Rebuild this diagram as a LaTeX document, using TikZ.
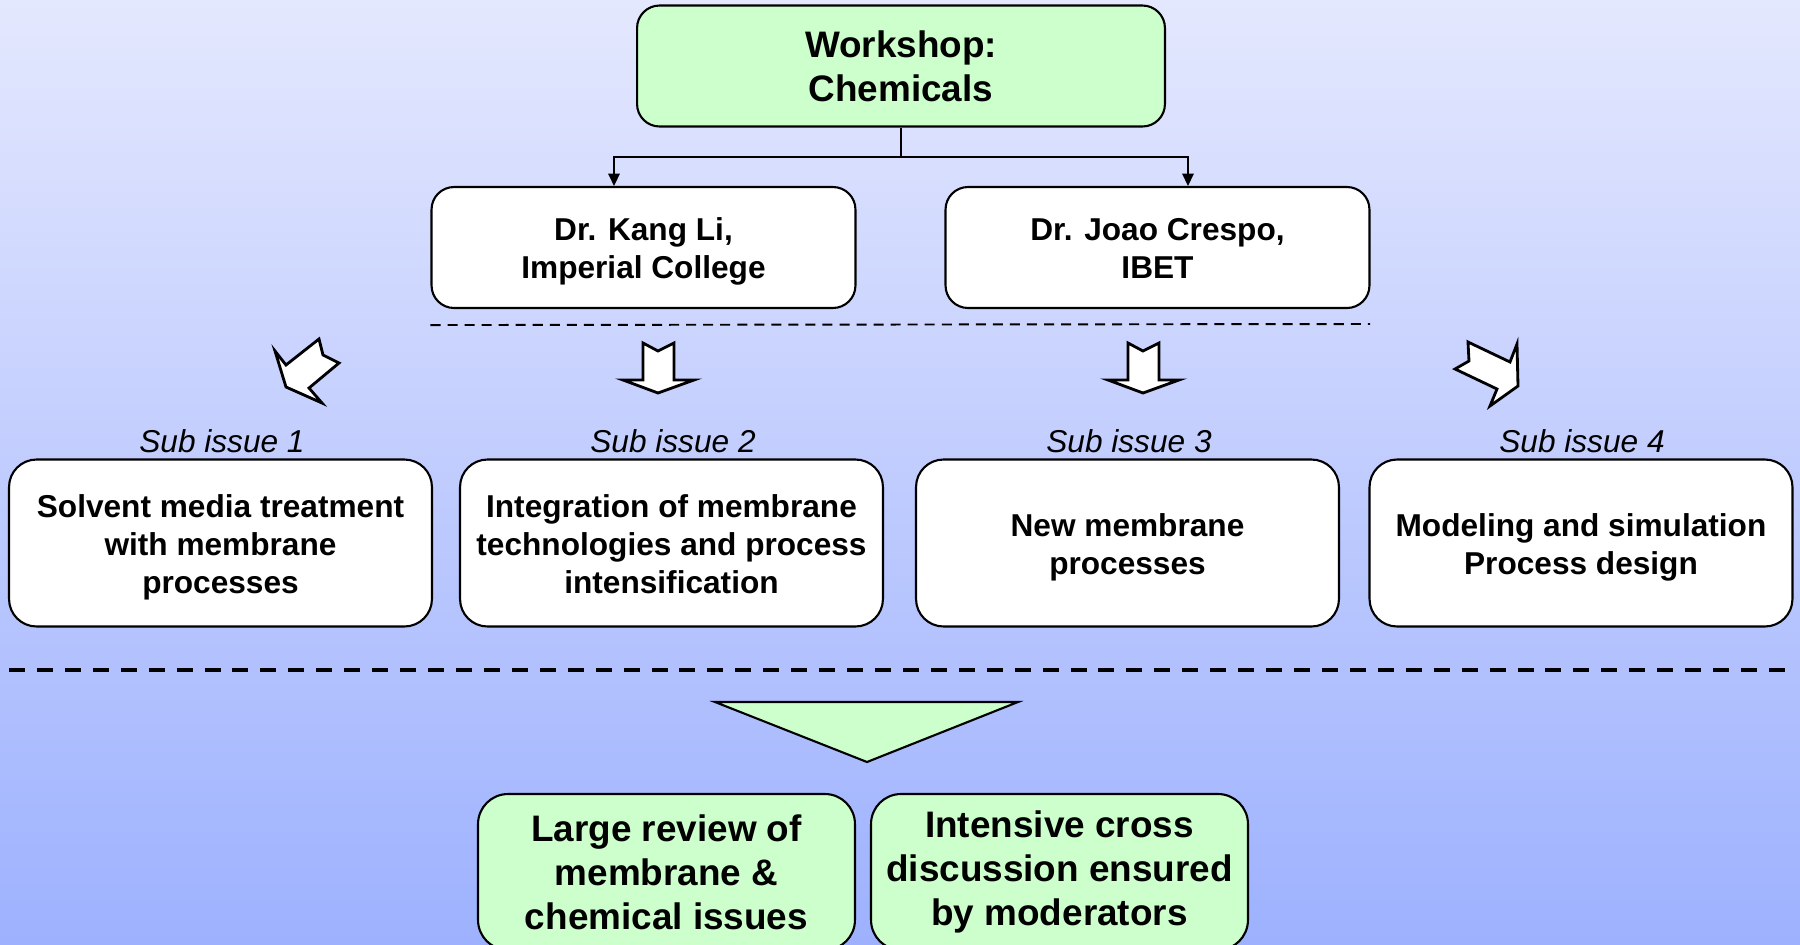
\documentclass[tikz,border=0pt]{standalone}
\usepackage{fontspec}
\setmainfont{Liberation Sans}
\usetikzlibrary{arrows.meta}

\definecolor{bgtop}{RGB}{228,232,254}
\definecolor{bgbottom}{RGB}{157,177,254}
\definecolor{mintgreen}{RGB}{204,255,204}

% a little extra room above the first line / below the last line of the white boxes
\newcommand{\tstrut}{\rule{0pt}{18pt}}
\newcommand{\bstrut}{\rule[-4pt]{0pt}{4pt}}

\tikzset{
  box/.style={draw, line width=1.2pt, rounded corners=0.45cm, fill=white, align=center,
    inner sep=0pt, font=\bfseries\fontsize{18}{21.6}\selectfont},
  greenbox/.style={draw, line width=1.2pt, rounded corners=0.45cm, fill=mintgreen, align=center,
    inner sep=0pt, font=\bfseries\fontsize{21}{25}\selectfont},
  subbox/.style={box, rounded corners=0.55cm, minimum width=8.46cm, minimum height=3.34cm},
  sublabel/.style={font=\itshape\fontsize{18}{21.6}\selectfont},
  link/.style={line width=1.1pt},
  blockarrow/.style={draw, fill=white, line width=1.6pt, line join=miter}
}

\begin{document}
\begin{tikzpicture}[x=0.02cm, y=-0.02cm]
  \clip (0,0) rectangle (1800,944);
  \shade[top color=bgtop, bottom color=bgbottom] (0,0) rectangle (1800,944);

  % workshop and moderators
  \node[greenbox, minimum width=10.56cm, minimum height=2.42cm] (ws) at (901,66) {Workshop:\\Chemicals};
  \node[box, minimum width=8.48cm, minimum height=2.42cm] (kang) at (643.5,247.5) {\tstrut Dr. Kang Li,\\Imperial College};
  \node[box, minimum width=8.48cm, minimum height=2.42cm] (crespo) at (1157.5,247.5) {\tstrut Dr. Joao Crespo,\\IBET\bstrut};

  \coordinate (split) at (901,157);
  \draw[link] (ws.south) -- (split);
  \draw[link, -{Triangle[length=7pt,width=6.5pt]}] (split) -| ([xshift=-0.59cm]kang.north);
  \draw[link, -{Triangle[length=7pt,width=6.5pt]}] (split) -| ([xshift=0.61cm]crespo.north);

  \draw[line width=1.1pt, dash pattern=on 5.7pt off 4pt] (kang.south west) ++(0,16) -- (1370,324);

  % block arrows
  \draw[blockarrow] (286,387) -- (275,351) -- (286,365) -- (319,339) -- (323,355) -- (339,363) -- (309,388) -- (322,403) -- cycle;
  \foreach \cx in {658,1143}
    \draw[blockarrow] (\cx,393) -- (\cx-35,380) -- (\cx-15,380) -- (\cx-15,343) -- (\cx,351)
      -- (\cx+16,343) -- (\cx+16,380) -- (\cx+36,380) -- cycle;
  \draw[blockarrow] (1518,386) -- (1490,406) -- (1497,389) -- (1455,369) -- (1469,361) -- (1468,342) -- (1510,362) -- (1517,344) -- cycle;

  % sub issues
  \node[sublabel] (lab1) at (222,441) {Sub issue 1};
  \node[sublabel] (lab2) at (673,441) {Sub issue 2};
  \node[sublabel] (lab3) at (1129,441) {Sub issue 3};
  \node[sublabel] (lab4) at (1582,441) {Sub issue 4};

  \node[subbox] (sub1) at (220.5,543) {\tstrut Solvent media treatment\\with membrane\\processes};
  \node[subbox] (sub2) at (671.5,543) {\tstrut Integration of membrane\\technologies and process\\intensification\bstrut};
  \node[subbox] (sub3) at (1127.5,543) {\tstrut New membrane\\processes};
  \node[subbox] (sub4) at (1581,543) {\tstrut Modeling and simulation\\Process design};

  \draw[line width=2.3pt, dash pattern=on 9.1pt off 6.8pt] (9,670) -- (1792,670);

  % outcome
  \draw[line width=1.2pt, fill=mintgreen, line join=miter] (715,702) -- (1018,702) -- (867,762) -- cycle;

  \node[greenbox, rounded corners=0.6cm, minimum width=7.54cm, minimum height=3.12cm] (review) at (666.5,872) {Large review of\\membrane \&\\chemical issues};
  \node[greenbox, rounded corners=0.6cm, minimum width=7.54cm, minimum height=3.12cm] (cross) at (1059.5,872) {Intensive cross\\discussion ensured\\by moderators};
\end{tikzpicture}
\end{document}
